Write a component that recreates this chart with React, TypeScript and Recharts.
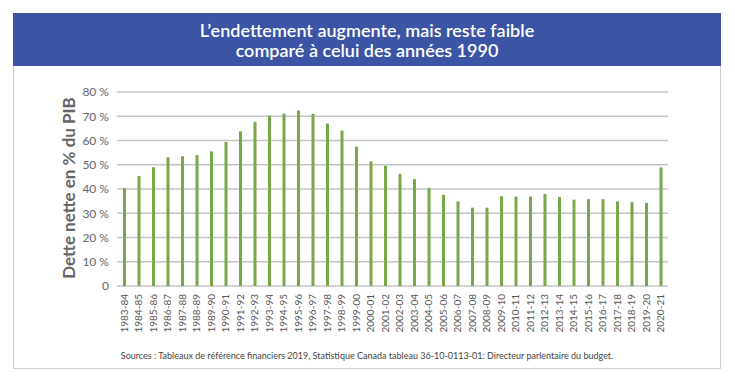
import { Bar, BarChart, CartesianGrid, XAxis, YAxis } from 'recharts';

const years = [
  '1983-84', '1984-85', '1985-86', '1986-87', '1987-88', '1988-89', '1989-90', '1990-91',
  '1991-92', '1992-93', '1993-94', '1994-95', '1995-96', '1996-97', '1997-98', '1998-99',
  '1999-00', '2000-01', '2001-02', '2002-03', '2003-04', '2004-05', '2005-06', '2006-07',
  '2007-08', '2008-09', '2009-10', '2010-11', '2011-12', '2012-13', '2013-14', '2014-15',
  '2015-16', '2016-17', '2017-18', '2018-19', '2019-20', '2020-21',
];

const netDebt = [
  40.3, 45.4, 49.0, 53.1, 53.5, 54.0, 55.5, 59.4,
  63.8, 67.7, 70.2, 71.1, 72.4, 71.0, 67.0, 64.1,
  57.5, 51.4, 49.6, 46.2, 44.1, 40.5, 37.6, 34.9,
  32.3, 32.3, 37.0, 36.9, 36.9, 38.0, 36.7, 35.6,
  35.8, 35.8, 34.9, 34.6, 34.3, 48.9,
];

const yTicks = [0, 10, 20, 30, 40, 50, 60, 70, 80];

const data = years.map((year, i) => ({ year, value: netDebt[i] }));

const FONT = 'Lato, "Open Sans", sans-serif';

function YearTick(props: any) {
  const { x, y, payload } = props;
  return (
    <text
      x={x}
      y={y}
      transform={`rotate(-90, ${x}, ${y})`}
      textAnchor="end"
      dy={3.5}
      fontSize={10}
      fill="#555"
      fontFamily={FONT}
    >
      {payload.value}
    </text>
  );
}

export default function App() {
  return (
    <div style={{ position: 'absolute', left: 0, top: 0, width: 735, height: 384, background: '#fff', fontFamily: FONT }}>
      <div
        style={{
          position: 'absolute',
          left: 13,
          top: 13,
          width: 708,
          height: 356,
          border: '1px solid #cfcfcf',
          boxSizing: 'border-box',
        }}
      />
      <div
        style={{
          position: 'absolute',
          left: 13,
          top: 13,
          width: 708,
          height: 53,
          background: '#3b54a3',
          color: '#fff',
          textAlign: 'center',
          fontSize: 18,
          fontWeight: 600,
          lineHeight: '20px',
          paddingTop: 7,
          boxSizing: 'border-box',
        }}
      >
        L’endettement augmente, mais reste faible
        <br />
        comparé à celui des années 1990
      </div>
      <div
        style={{
          position: 'absolute',
          left: 68,
          top: 188,
          transform: 'translate(-50%, -50%) rotate(-90deg)',
          whiteSpace: 'nowrap',
          fontSize: 17,
          fontWeight: 700,
          color: '#666',
        }}
      >
        Dette nette en % du PIB
      </div>
      <div style={{ position: 'absolute', left: 0, top: 0 }}>
        <BarChart
          width={735}
          height={384}
          data={data}
          margin={{ top: 92, right: 67, bottom: 38, left: 67 }}
          barSize={3}
        >
          <CartesianGrid vertical={false} stroke="#c4c4c4" strokeWidth={1.5} />
          <XAxis
            dataKey="year"
            interval={0}
            tickLine={false}
            axisLine={false}
            height={60}
            tick={<YearTick />}
          />
          <YAxis
            domain={[0, 80]}
            ticks={yTicks}
            width={50}
            tickLine={false}
            axisLine={false}
            tick={{ fontSize: 12, fill: '#666', fontFamily: FONT }}
            tickFormatter={(v) => (v === 0 ? '0' : `${v}\u00a0%`)}
          />
          <Bar dataKey="value" fill="#79a84a" isAnimationActive={false} />
        </BarChart>
      </div>
      <div
        style={{
          position: 'absolute',
          left: 13,
          width: 708,
          top: 350,
          textAlign: 'center',
          fontSize: 9,
          color: '#444',
        }}
      >
        Sources : Tableaux de référence financiers 2019, Statistique Canada tableau 36-10-0113-01: Directeur parlentaire du budget.
      </div>
    </div>
  );
}
